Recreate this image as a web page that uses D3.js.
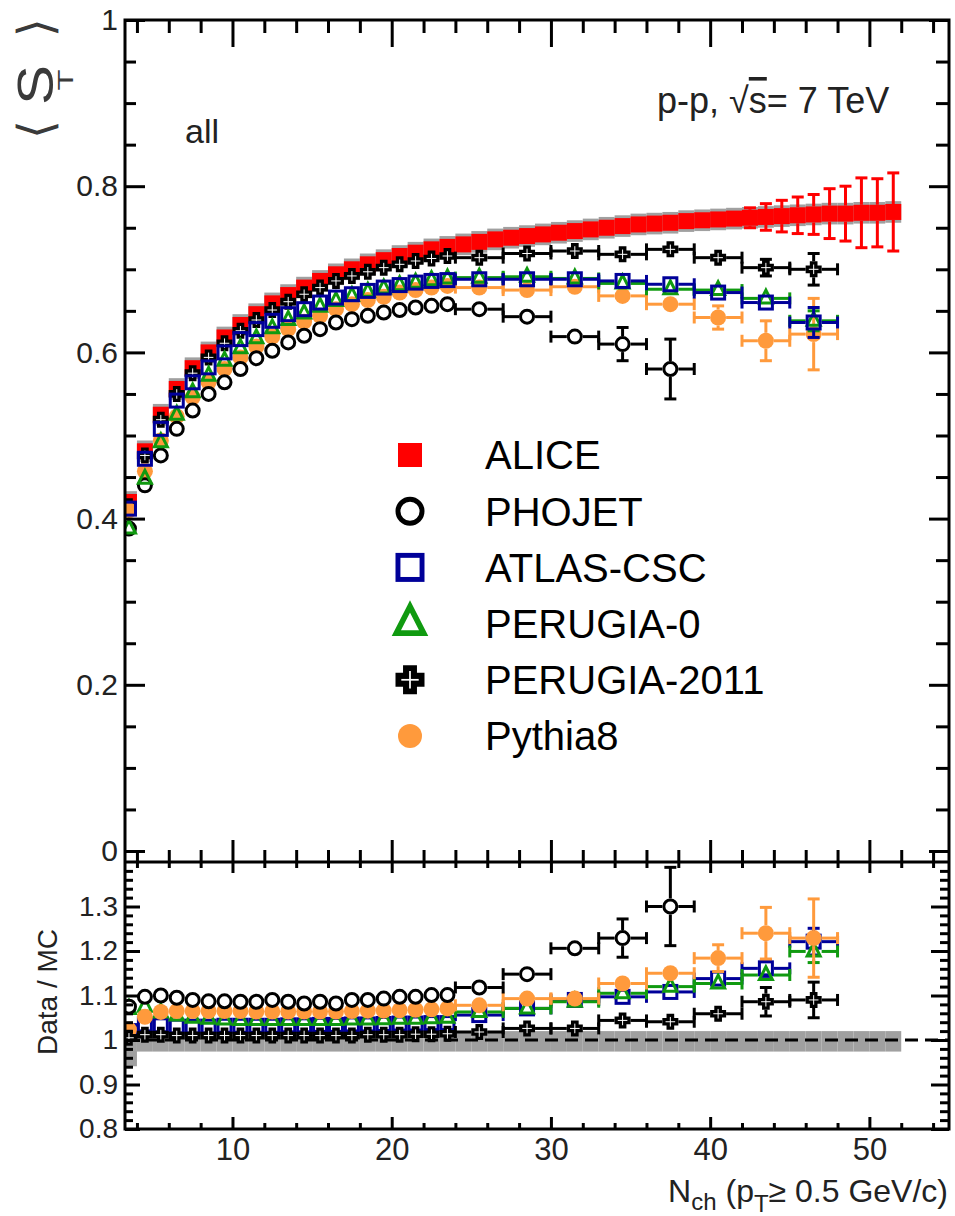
<!DOCTYPE html>
<html>
<head>
<meta charset="utf-8">
<script src="https://cdn.jsdelivr.net/npm/d3@7"></script>
<style>
  body { margin: 0; background: #fff; }
  svg { display: block; font-family: 'Liberation Sans', Arial, sans-serif; }
</style>
</head>
<body>
<svg id="chart" width="955" height="1216"></svg>
<script>
// ---------- data ----------

// ALICE, unit Nch bins
const aliceN = [3.5, 4.5, 5.5, 6.5, 7.5, 8.5, 9.5, 10.5, 11.5, 12.5, 13.5, 14.5, 15.5, 16.5, 17.5, 18.5, 19.5,
  20.5, 21.5, 22.5, 23.5, 24.5, 25.5, 26.5, 27.5, 28.5, 29.5, 30.5, 31.5, 32.5, 33.5, 34.5, 35.5, 36.5, 37.5,
  38.5, 39.5, 40.5, 41.5, 42.5, 43.5, 44.5, 45.5, 46.5, 47.5, 48.5, 49.5, 50.5, 51.5];
const aliceSt = [0.420, 0.481, 0.525, 0.556, 0.581, 0.600, 0.618, 0.633, 0.646, 0.659, 0.669, 0.678, 0.686,
  0.694, 0.700, 0.706, 0.711, 0.716, 0.720, 0.724, 0.727, 0.730, 0.733, 0.736, 0.738, 0.740, 0.742, 0.744,
  0.746, 0.748, 0.750, 0.752, 0.754, 0.755, 0.756, 0.758, 0.759, 0.760, 0.761, 0.762, 0.763, 0.764, 0.765,
  0.766, 0.767, 0.767, 0.768, 0.768, 0.769];
const aliceStat = [0.001, 0.001, 0.001, 0.001, 0.001, 0.001, 0.001, 0.001, 0.001, 0.001, 0.001, 0.001, 0.001,
  0.001, 0.001, 0.001, 0.001, 0.001, 0.001, 0.001, 0.001, 0.001, 0.001, 0.001, 0.001, 0.001, 0.001, 0.001,
  0.001, 0.001, 0.001, 0.001, 0.001, 0.003, 0.004, 0.005, 0.006, 0.007, 0.009, 0.012, 0.016, 0.019, 0.022,
  0.024, 0.030, 0.033, 0.042, 0.041, 0.047];
const aliceSys = [0.013, 0.013, 0.013, 0.013, 0.013, 0.013, 0.013, 0.013, 0.013, 0.013, 0.013, 0.013, 0.013,
  0.013, 0.013, 0.013, 0.013, 0.013, 0.013, 0.013, 0.013, 0.013, 0.013, 0.013, 0.013, 0.013, 0.013, 0.013,
  0.013, 0.013, 0.013, 0.013, 0.013, 0.013, 0.013, 0.013, 0.013, 0.013, 0.013, 0.013, 0.013, 0.013, 0.013,
  0.013, 0.013, 0.013, 0.013, 0.013, 0.013];
// grey band in the ratio panel (lower / upper edge)
const aliceRatioLo = [0.941, 0.974, 0.974, 0.974, 0.974, 0.974, 0.974, 0.974, 0.974, 0.974, 0.974, 0.974, 0.974,
  0.974, 0.974, 0.974, 0.974, 0.974, 0.974, 0.974, 0.974, 0.974, 0.974, 0.974, 0.974, 0.974, 0.974, 0.974,
  0.974, 0.974, 0.974, 0.974, 0.974, 0.974, 0.974, 0.974, 0.974, 0.974, 0.974, 0.974, 0.974, 0.974, 0.974,
  0.974, 0.974, 0.974, 0.974, 0.974, 0.974];
const aliceRatioHi = [1.011, 1.020, 1.020, 1.020, 1.020, 1.020, 1.020, 1.020, 1.020, 1.020, 1.020, 1.020, 1.020,
  1.020, 1.020, 1.020, 1.020, 1.020, 1.020, 1.020, 1.020, 1.020, 1.020, 1.020, 1.020, 1.020, 1.020, 1.020,
  1.020, 1.020, 1.020, 1.020, 1.020, 1.020, 1.020, 1.020, 1.020, 1.020, 1.020, 1.020, 1.020, 1.020, 1.020,
  1.020, 1.020, 1.020, 1.020, 1.020, 1.020];

// MC generators: unit bins up to 24, then bins of 3
const mcN = [3.5, 4.5, 5.5, 6.5, 7.5, 8.5, 9.5, 10.5, 11.5, 12.5, 13.5, 14.5, 15.5, 16.5, 17.5, 18.5, 19.5,
  20.5, 21.5, 22.5, 23.5, 25.5, 28.5, 31.5, 34.5, 37.5, 40.5, 43.5, 46.5];
const mcHalfWidth = [0.5, 0.5, 0.5, 0.5, 0.5, 0.5, 0.5, 0.5, 0.5, 0.5, 0.5, 0.5, 0.5, 0.5, 0.5, 0.5, 0.5,
  0.5, 0.5, 0.5, 0.5, 1.5, 1.5, 1.5, 1.5, 1.5, 1.5, 1.5, 1.5];

const phojetSt = [0.388, 0.440, 0.476, 0.508, 0.530, 0.550, 0.564, 0.580, 0.593, 0.602, 0.612, 0.620, 0.628,
  0.636, 0.640, 0.644, 0.648, 0.651, 0.654, 0.656, 0.658, 0.652, 0.643, 0.619, 0.610, 0.580, null, null, null];
const phojetStErr = [0, 0, 0, 0, 0, 0, 0, 0, 0, 0, 0, 0, 0, 0, 0, 0, 0, 0, 0, 0, 0,
  0.002, 0.003, 0.005, 0.020, 0.036, null, null, null];
const atlasSt = [0.412, 0.472, 0.508, 0.542, 0.564, 0.582, 0.600, 0.616, 0.628, 0.638, 0.646, 0.652, 0.660,
  0.666, 0.670, 0.674, 0.678, 0.681, 0.684, 0.686, 0.687, 0.688, 0.688, 0.688, 0.686, 0.682, 0.672, 0.660, 0.636];
const atlasStErr = [0, 0, 0, 0, 0, 0, 0, 0, 0, 0, 0, 0, 0, 0, 0, 0, 0, 0, 0, 0, 0,
  0.002, 0.002, 0.003, 0.004, 0.005, 0.007, 0.009, 0.018];
const perugia0St = [0.388, 0.448, 0.492, 0.525, 0.552, 0.572, 0.590, 0.605, 0.617, 0.629, 0.639, 0.647, 0.655,
  0.662, 0.668, 0.673, 0.677, 0.681, 0.684, 0.687, 0.689, 0.690, 0.691, 0.689, 0.683, 0.676, 0.675, 0.665, 0.638];
const perugia0StErr = [0, 0, 0, 0, 0, 0, 0, 0, 0, 0, 0, 0, 0, 0, 0, 0, 0, 0, 0, 0, 0,
  0.002, 0.002, 0.003, 0.004, 0.005, 0.006, 0.008, 0.012];
const perugia2011St = [0.415, 0.476, 0.519, 0.550, 0.575, 0.594, 0.611, 0.626, 0.639, 0.651, 0.661, 0.670, 0.678,
  0.686, 0.692, 0.697, 0.702, 0.706, 0.710, 0.713, 0.716, 0.714, 0.719, 0.722, 0.718, 0.724, 0.714, 0.702, 0.700];
const perugia2011StErr = [0, 0, 0, 0, 0, 0, 0, 0, 0, 0, 0, 0, 0, 0, 0, 0, 0, 0, 0, 0, 0,
  0.002, 0.002, 0.003, 0.004, 0.004, 0.006, 0.010, 0.019];
const pythia8St = [0.410, 0.457, 0.494, 0.523, 0.546, 0.564, 0.580, 0.594, 0.607, 0.619, 0.628, 0.637, 0.644,
  0.652, 0.658, 0.663, 0.667, 0.672, 0.675, 0.678, 0.680, 0.678, 0.675, 0.679, 0.668, 0.658, 0.642, 0.614, 0.622];
const pythia8StErr = [0, 0, 0, 0, 0, 0, 0, 0, 0, 0, 0, 0, 0, 0, 0, 0, 0, 0, 0, 0, 0,
  0.002, 0.003, 0.003, 0.004, 0.006, 0.014, 0.024, 0.043];

// Data / MC
const phojetRatio = [1.075, 1.097, 1.100, 1.095, 1.090, 1.087, 1.087, 1.086, 1.086, 1.090, 1.086, 1.082, 1.086,
  1.082, 1.090, 1.090, 1.093, 1.097, 1.097, 1.101, 1.101, 1.118, 1.148, 1.206, 1.229, 1.300, null, null, null];
const phojetRatioErr = [0, 0, 0, 0, 0, 0, 0, 0, 0, 0, 0, 0, 0, 0, 0, 0, 0, 0, 0, 0, 0,
  0.005, 0.008, 0.015, 0.043, 0.088, null, null, null];
const atlasRatio = [1.020, 1.035, 1.033, 1.030, 1.030, 1.030, 1.032, 1.032, 1.032, 1.032, 1.033, 1.033, 1.034,
  1.034, 1.035, 1.035, 1.036, 1.037, 1.037, 1.038, 1.038, 1.056, 1.071, 1.090, 1.097, 1.108, 1.138, 1.161, 1.221];
const atlasRatioErr = [0, 0, 0, 0, 0, 0, 0, 0, 0, 0, 0, 0, 0, 0, 0, 0, 0, 0, 0, 0, 0,
  0.004, 0.004, 0.005, 0.007, 0.009, 0.012, 0.018, 0.030];
const perugia0Ratio = [1.070, 1.075, 1.062, 1.055, 1.050, 1.048, 1.046, 1.045, 1.045, 1.045, 1.045, 1.045, 1.045,
  1.045, 1.046, 1.046, 1.047, 1.048, 1.048, 1.049, 1.050, 1.063, 1.071, 1.086, 1.105, 1.120, 1.127, 1.146, 1.199];
const perugia0RatioErr = [0, 0, 0, 0, 0, 0, 0, 0, 0, 0, 0, 0, 0, 0, 0, 0, 0, 0, 0, 0, 0,
  0.004, 0.004, 0.005, 0.007, 0.009, 0.012, 0.016, 0.025];
const perugia2011Ratio = [1.005, 1.012, 1.012, 1.010, 1.010, 1.010, 1.010, 1.010, 1.010, 1.010, 1.010, 1.010, 1.010,
  1.010, 1.010, 1.012, 1.012, 1.012, 1.013, 1.013, 1.014, 1.018, 1.026, 1.026, 1.044, 1.041, 1.059, 1.086, 1.090];
const perugia2011RatioErr = [0, 0, 0, 0, 0, 0, 0, 0, 0, 0, 0, 0, 0, 0, 0, 0, 0, 0, 0, 0, 0,
  0.004, 0.005, 0.006, 0.008, 0.009, 0.012, 0.032, 0.040];
const pythia8Ratio = [1.023, 1.052, 1.063, 1.065, 1.065, 1.065, 1.065, 1.065, 1.064, 1.064, 1.064, 1.064, 1.064,
  1.064, 1.065, 1.066, 1.066, 1.067, 1.068, 1.069, 1.071, 1.078, 1.093, 1.093, 1.127, 1.150, 1.184, 1.240, 1.229];
const pythia8RatioErr = [0, 0, 0, 0, 0, 0, 0, 0, 0, 0, 0, 0, 0, 0, 0, 0, 0, 0, 0, 0, 0,
  0.004, 0.005, 0.006, 0.008, 0.015, 0.030, 0.058, 0.088];

// axis ticks
const xMajor = [10, 20, 30, 40, 50];
const xMinor = [4, 6, 8, 12, 14, 16, 18, 22, 24, 26, 28, 32, 34, 36, 38, 42, 44, 46, 48, 52, 54];
const yTopMajor = [0, 0.2, 0.4, 0.6, 0.8, 1];
const yTopLabels = ['0', '0.2', '0.4', '0.6', '0.8', '1'];
const yBotMajor = [0.8, 0.9, 1, 1.1, 1.2, 1.3];
const yBotLabels = ['0.8', '0.9', '1', '1.1', '1.2', '1.3'];

const legendNames = ['ALICE', 'PHOJET', 'ATLAS-CSC', 'PERUGIA-0', 'PERUGIA-2011', 'Pythia8'];

// ---------- layout ----------
const frame = { left: 125, right: 949, top: 20, mid: 862, bottom: 1129 };
const TEXT = '#222';
const RED = '#ff0000', BLUE = '#000099', GREEN = '#109a10', ORANGE = '#ff9a3c', GREY = '#a0a0a0';
const MARK = 16;

const svg = d3.select('#chart');
const x = d3.scaleLinear().domain([3.25, 55]).range([frame.left, frame.right]);
const yTop = d3.scaleLinear().domain([0, 1]).range([851, frame.top]);
const yBot = d3.scaleLinear().domain([0.8, 1.4]).range([frame.bottom, frame.mid]);

const defs = svg.append('defs');
defs.append('clipPath').attr('id', 'clipTop').append('rect')
  .attr('x', frame.left).attr('y', frame.top)
  .attr('width', frame.right - frame.left).attr('height', frame.mid - frame.top);
defs.append('clipPath').attr('id', 'clipBot').append('rect')
  .attr('x', frame.left).attr('y', frame.mid)
  .attr('width', frame.right - frame.left).attr('height', frame.bottom - frame.mid);

// ---------- markers ----------
function drawMarker(g, type, cx, cy, s) {
  const sw = Math.max(3, s * 0.17);
  if (type === 'alice') {
    g.append('rect').attr('x', cx - s / 2).attr('y', cy - s / 2)
      .attr('width', s).attr('height', s).attr('fill', RED);
  } else if (type === 'phojet') {
    g.append('circle').attr('cx', cx).attr('cy', cy).attr('r', s / 2 - sw / 2)
      .attr('fill', '#fff').attr('stroke', '#000').attr('stroke-width', sw);
  } else if (type === 'atlas') {
    g.append('rect').attr('x', cx - s / 2 + sw / 2).attr('y', cy - s / 2 + sw / 2)
      .attr('width', s - sw).attr('height', s - sw)
      .attr('fill', 'none').attr('stroke', BLUE).attr('stroke-width', sw);
  } else if (type === 'perugia0') {
    const h = s * 0.866;
    g.append('path')
      .attr('d', `M${cx},${cy - h * 0.6}L${cx - s / 2 + sw / 2},${cy + h * 0.4 - sw / 3}L${cx + s / 2 - sw / 2},${cy + h * 0.4 - sw / 3}Z`)
      .attr('fill', 'none').attr('stroke', GREEN).attr('stroke-width', sw).attr('stroke-linejoin', 'miter');
  } else if (type === 'perugia2011') {
    const h = s / 2, t = s * 0.24;
    const pts = [[-t, -h], [t, -h], [t, -t], [h, -t], [h, t], [t, t], [t, h], [-t, h], [-t, t], [-h, t], [-h, -t], [-t, -t]];
    g.append('path').attr('d', 'M' + pts.map(p => `${cx + p[0]},${cy + p[1]}`).join('L') + 'Z').attr('fill', '#000');
    const a = s * 0.3, w = Math.max(1, s * 0.06);
    g.append('line').attr('x1', cx - a).attr('x2', cx + a).attr('y1', cy).attr('y2', cy)
      .attr('stroke', '#fff').attr('stroke-width', w);
    g.append('line').attr('x1', cx).attr('x2', cx).attr('y1', cy - a).attr('y2', cy + a)
      .attr('stroke', '#fff').attr('stroke-width', w);
  } else if (type === 'pythia8') {
    g.append('circle').attr('cx', cx).attr('cy', cy).attr('r', s / 2).attr('fill', ORANGE);
  }
}

// error bars with end caps, drawn outside the marker only
function drawErrors(g, xs, halfW, vals, errs, yScale, color, half) {
  const cap = 6;
  vals.forEach((v, i) => {
    if (v === null) return;
    const px = x(xs[i]), py = yScale(v);
    const seg = (x1, y1, x2, y2) => g.append('line')
      .attr('x1', x1).attr('y1', y1).attr('x2', x2).attr('y2', y2)
      .attr('stroke', color).attr('stroke-width', 3);
    if (halfW) {
      const xl = x(xs[i] - halfW[i]), xr = x(xs[i] + halfW[i]);
      if (px - xl > half) {
        seg(xl, py, px - half, py);
        seg(px + half, py, xr, py);
        seg(xl, py - cap, xl, py + cap);
        seg(xr, py - cap, xr, py + cap);
      }
    }
    const e = errs[i] || 0;
    const yu = yScale(v + e), yd = yScale(v - e);
    if (py - yu > half) {
      seg(px, py - half, px, yu);
      seg(px, py + half, px, yd);
      seg(px - cap, yu, px + cap, yu);
      seg(px - cap, yd, px + cap, yd);
    }
  });
}

function drawSeries(g, type, color, xs, halfW, vals, errs, yScale, size) {
  const sg = g.append('g');
  drawErrors(sg, xs, halfW, vals, errs, yScale, color, size / 2);
  vals.forEach((v, i) => {
    if (v === null) return;
    drawMarker(sg, type, x(xs[i]), yScale(v), size);
  });
}

// MC series
const mc = {
  perugia2011: { type: 'perugia2011', color: '#000', st: perugia2011St, stErr: perugia2011StErr, ratio: perugia2011Ratio, ratioErr: perugia2011RatioErr },
  pythia8: { type: 'pythia8', color: ORANGE, st: pythia8St, stErr: pythia8StErr, ratio: pythia8Ratio, ratioErr: pythia8RatioErr },
  phojet: { type: 'phojet', color: '#000', st: phojetSt, stErr: phojetStErr, ratio: phojetRatio, ratioErr: phojetRatioErr },
  perugia0: { type: 'perugia0', color: GREEN, st: perugia0St, stErr: perugia0StErr, ratio: perugia0Ratio, ratioErr: perugia0RatioErr },
  atlas: { type: 'atlas', color: BLUE, st: atlasSt, stErr: atlasStErr, ratio: atlasRatio, ratioErr: atlasRatioErr }
};
// drawing order (later on top) differs a little between the two panels
const topOrder = ['perugia2011', 'pythia8', 'phojet', 'perugia0', 'atlas'];
const botOrder = ['atlas', 'perugia0', 'pythia8', 'phojet', 'perugia2011'];

// ---------- top panel ----------
const topPanel = svg.append('g').attr('clip-path', 'url(#clipTop)');

// ALICE systematic boxes
topPanel.append('g').selectAll('rect').data(aliceN).join('rect')
  .attr('x', d => x(d - 0.5)).attr('width', d => x(d + 0.5) - x(d - 0.5))
  .attr('y', (d, i) => yTop(aliceSt[i] + aliceSys[i]))
  .attr('height', (d, i) => yTop(aliceSt[i] - aliceSys[i]) - yTop(aliceSt[i] + aliceSys[i]))
  .attr('fill', GREY);

drawSeries(topPanel, 'alice', RED, aliceN, null, aliceSt, aliceStat, yTop, MARK);
topOrder.forEach(k => drawSeries(topPanel, mc[k].type, mc[k].color, mcN, mcHalfWidth, mc[k].st, mc[k].stErr, yTop, MARK));

// ---------- ratio panel ----------
const botPanel = svg.append('g').attr('clip-path', 'url(#clipBot)');

botPanel.append('g').selectAll('rect').data(aliceN).join('rect')
  .attr('x', d => x(d - 0.5)).attr('width', d => x(d + 0.5) - x(d - 0.5))
  .attr('y', (d, i) => yBot(aliceRatioHi[i]))
  .attr('height', (d, i) => yBot(aliceRatioLo[i]) - yBot(aliceRatioHi[i]))
  .attr('fill', GREY);

botPanel.append('line')
  .attr('x1', frame.left).attr('x2', frame.right)
  .attr('y1', yBot(1)).attr('y2', yBot(1))
  .attr('stroke', '#000').attr('stroke-width', 3).attr('stroke-dasharray', '13,7');

botOrder.forEach(k => drawSeries(botPanel, mc[k].type, mc[k].color, mcN, mcHalfWidth, mc[k].ratio, mc[k].ratioErr, yBot, MARK));

// ---------- frames and ticks ----------
function ticks(axis, transform) {
  const g = svg.append('g').attr('transform', transform).call(axis);
  g.select('.domain').remove();
  g.selectAll('line').attr('stroke', '#000').attr('stroke-width', 3);
  return g;
}

const minorTop = d3.range(0, 1.0001, 0.05).filter(v => Math.abs(v * 5 - Math.round(v * 5)) > 1e-6);
const minorBot = d3.range(0.8, 1.4001, 0.02).filter(v => Math.abs(v * 10 - Math.round(v * 10)) > 1e-6);

// top panel: left, right, top, bottom (all ticks inward)
ticks(d3.axisRight(yTop).tickValues(yTopMajor).tickSize(20).tickFormat(''), `translate(${frame.left},0)`);
ticks(d3.axisRight(yTop).tickValues(minorTop).tickSize(11).tickFormat(''), `translate(${frame.left},0)`);
ticks(d3.axisLeft(yTop).tickValues(yTopMajor).tickSize(20).tickFormat(''), `translate(${frame.right},0)`);
ticks(d3.axisLeft(yTop).tickValues(minorTop).tickSize(13).tickFormat(''), `translate(${frame.right},0)`);
ticks(d3.axisBottom(x).tickValues(xMajor).tickSize(27).tickFormat(''), `translate(0,${frame.top})`);
ticks(d3.axisBottom(x).tickValues(xMinor).tickSize(13).tickFormat(''), `translate(0,${frame.top})`);
ticks(d3.axisTop(x).tickValues(xMajor).tickSize(22).tickFormat(''), `translate(0,${frame.mid})`);
ticks(d3.axisTop(x).tickValues(xMinor).tickSize(12).tickFormat(''), `translate(0,${frame.mid})`);

// ratio panel
ticks(d3.axisRight(yBot).tickValues(yBotMajor).tickSize(15).tickFormat(''), `translate(${frame.left},0)`);
ticks(d3.axisRight(yBot).tickValues(minorBot).tickSize(8).tickFormat(''), `translate(${frame.left},0)`);
ticks(d3.axisLeft(yBot).tickValues(yBotMajor).tickSize(18).tickFormat(''), `translate(${frame.right},0)`);
ticks(d3.axisLeft(yBot).tickValues(minorBot).tickSize(9).tickFormat(''), `translate(${frame.right},0)`);
ticks(d3.axisBottom(x).tickValues(xMajor).tickSize(11).tickFormat(''), `translate(0,${frame.mid})`);
ticks(d3.axisBottom(x).tickValues(xMinor).tickSize(6).tickFormat(''), `translate(0,${frame.mid})`);
ticks(d3.axisTop(x).tickValues(xMajor).tickSize(12).tickFormat(''), `translate(0,${frame.bottom})`);
ticks(d3.axisTop(x).tickValues(xMinor).tickSize(6).tickFormat(''), `translate(0,${frame.bottom})`);

svg.append('rect')
  .attr('x', frame.left).attr('y', frame.top)
  .attr('width', frame.right - frame.left).attr('height', frame.bottom - frame.top)
  .attr('fill', 'none').attr('stroke', '#000').attr('stroke-width', 3);
svg.append('line')
  .attr('x1', frame.left).attr('x2', frame.right).attr('y1', frame.mid).attr('y2', frame.mid)
  .attr('stroke', '#000').attr('stroke-width', 3);

// tick labels
function labels(axis, transform, size) {
  const g = svg.append('g').attr('transform', transform).call(axis);
  g.select('.domain').remove();
  g.selectAll('line').remove();
  g.selectAll('text').attr('font-size', size).attr('fill', TEXT)
    .attr('font-family', "'Liberation Sans', Arial, sans-serif");
  return g;
}
labels(d3.axisLeft(yTop).tickValues(yTopMajor).tickSize(0).tickPadding(7)
  .tickFormat((d, i) => yTopLabels[i]), `translate(${frame.left},0)`, 30);
labels(d3.axisLeft(yBot).tickValues(yBotMajor).tickSize(0).tickPadding(7)
  .tickFormat((d, i) => yBotLabels[i]), `translate(${frame.left},0)`, 28);
labels(d3.axisBottom(x).tickValues(xMajor).tickSize(0).tickPadding(9)
  .tickFormat(d => d), `translate(0,${frame.bottom})`, 31);

// ---------- axis titles and annotations ----------
// rotated <S_T>: text-frame x runs bottom->top, baseline sits at screen x = 53
const yTitle = svg.append('g').attr('transform', 'translate(53,0) rotate(-90)')
  .attr('fill', '#3a3a3a');
yTitle.append('text').attr('x', -129).attr('y', -1).attr('text-anchor', 'middle')
  .attr('font-family', 'DejaVu Sans').attr('font-size', 48).attr('font-weight', 200).text('\u27E8');
yTitle.append('text').attr('transform', 'translate(-85,0) scale(1.2,1)').attr('text-anchor', 'middle')
  .attr('font-size', 50).text('S');
yTitle.append('text').attr('transform', 'translate(-80,20) scale(1.5,1)').attr('text-anchor', 'middle')
  .attr('font-size', 23).text('T');
yTitle.append('text').attr('x', -27).attr('y', -1).attr('text-anchor', 'middle')
  .attr('font-family', 'DejaVu Sans').attr('font-size', 48).attr('font-weight', 200).text('\u27E9');

svg.append('text').attr('transform', 'translate(57,992) rotate(-90)')
  .attr('text-anchor', 'middle').attr('font-size', 28).attr('fill', TEXT).text('Data / MC');

const xTitle = svg.append('text').attr('x', 948).attr('y', 1202)
  .attr('text-anchor', 'end').attr('font-size', 32).attr('fill', TEXT);
xTitle.append('tspan').text('N');
xTitle.append('tspan').attr('font-size', 24).attr('dy', 8).text('ch');
xTitle.append('tspan').attr('dy', -8).text(' (p');
xTitle.append('tspan').attr('font-size', 24).attr('dy', 10).text('T');
xTitle.append('tspan').attr('dy', -10).text('\u2265 0.5 GeV/c)');

svg.append('text').attr('x', 185).attr('y', 143)
  .attr('font-size', 34).attr('fill', TEXT).text('all');

const energy = svg.append('text').attr('x', 657).attr('y', 113)
  .attr('font-size', 36).attr('fill', TEXT);
energy.append('tspan').text('p-p, \u221A');
energy.append('tspan').attr('text-decoration', 'overline').text('s');
energy.append('tspan').text('= 7 TeV');

// ---------- legend ----------
const legendTypes = ['alice', 'phojet', 'atlas', 'perugia0', 'perugia2011', 'pythia8'];
const legendSize = [24, 29, 29, 33, 29, 24];
const legendY = d3.scaleLinear().domain([0, 5]).range([455, 736]);
const legend = svg.append('g');
legendNames.forEach((name, i) => {
  drawMarker(legend, legendTypes[i], 410, legendY(i), legendSize[i]);
  legend.append('text').attr('x', 485).attr('y', legendY(i)).attr('dy', '0.36em')
    .attr('font-size', 40).attr('fill', '#000').text(name);
});
</script>
</body>
</html>
